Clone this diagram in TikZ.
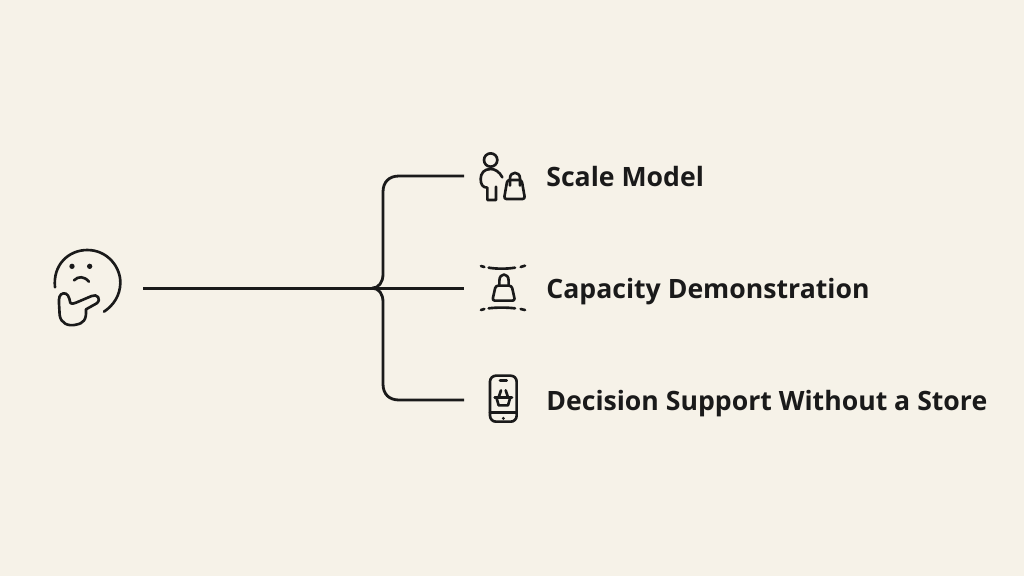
\documentclass[tikz,border=0pt]{standalone}
\usepackage{fontspec}
\setmainfont{Open Sans}
\usetikzlibrary{positioning}
\definecolor{paper}{HTML}{F6F2E8}
\definecolor{ink}{HTML}{1A1A1A}
\tikzstyle{lbl} = [anchor=base west,inner sep=0pt,text=ink,font=\fontsize{15.16}{19}\selectfont\bfseries]
\tikzstyle{wire} = [draw=ink,line width=1.6pt]
\tikzstyle{icon} = [draw=ink,line width=1.5pt,line cap=round,line join=round]

\begin{document}
\begin{tikzpicture}[x=.02cm,y=-.02cm]
  \fill [paper] (0,0) rectangle (1024,576);
  \useasboundingbox (0,0) rectangle (1024,576);

  \coordinate (start) at (143,288.2);
  \coordinate (hub) at (372,288.2);
  \coordinate (end1) at (464,176);
  \coordinate (end2) at (464,288.2);
  \coordinate (end3) at (464,400);

  \node [lbl] (t1) at (546,186) {Scale Model};
  \node [lbl] (t2) at (546,298.5) {Capacity Demonstration};
  \node [lbl] (t3) at (546,410.5) {Decision Support Without a Store};

  \draw [wire] (start) -- (end2);
  \draw [wire,line width=1.9pt] (303,288.2) -- (hub);
  \draw [wire] (hub) .. controls (379,288) and (383,282) .. (383,274)
    -- (383,192) .. controls (383,182) and (389,176) .. (399,176) -- (end1);
  \draw [wire] (hub) .. controls (379,288) and (383,294) .. (383,302)
    -- (383,384) .. controls (383,394) and (389,400) .. (399,400) -- (end3);

  % thinking face
  \begin{scope}[shift={(40,240)},x=.00667cm,y=-.00667cm]
    \draw [icon] (45,142) .. controls (38,75) and (85,30) .. (142,30)
      .. controls (205,30) and (243,85) .. (241,130)
      .. controls (240,165) and (222,195) .. (192,215);
    \fill [ink] (96,79) circle (8);
    \fill [ink] (149,79) circle (8);
    \draw [icon] (102,121) .. controls (115,108) and (132,108) .. (147,125);
    \draw [icon] (91,189) .. controls (88,170) and (82,158) .. (70,160)
      .. controls (58,162) and (56,175) .. (57,190)
      -- (59,225) .. controls (62,250) and (85,260) .. (108,254)
      .. controls (130,250) and (140,240) .. (138,208)
      -- (170,190) .. controls (185,178) and (172,160) .. (155,168)
      -- (108,188) .. controls (100,192) and (94,192) .. (91,189);
  \end{scope}

  % person with bag
  \begin{scope}[shift={(470,145)},x=.00667cm,y=-.00667cm]
    \draw [icon] (62,45) circle (20);
    \draw [icon] (97,97) .. controls (88,80) and (75,72) .. (62,72)
      .. controls (42,72) and (32,85) .. (32,102)
      .. controls (32,118) and (38,128) .. (52,128)
      -- (52,165) -- (78,165) -- (78,125);
    \draw [icon,rounded corners=.05cm] (112,105) -- (155,105) -- (165,162) -- (102,162) -- cycle;
    \draw [icon] (120,122) -- (120,100) .. controls (120,78) and (150,78) .. (150,100) -- (150,122);
  \end{scope}

  % bag between bands
  \begin{scope}[shift={(470,255)},x=.00667cm,y=-.00667cm]
    \draw [icon] (33,33) -- (43,36);
    \draw [icon] (56,38) .. controls (80,42) and (110,42) .. (135,38);
    \draw [icon] (152,36) -- (165,32);
    \draw [icon] (33,165) -- (43,162);
    \draw [icon] (56,160) .. controls (80,157) and (110,157) .. (135,160);
    \draw [icon] (152,162) -- (165,165);
    \draw [icon,rounded corners=.05cm] (77,92) -- (125,92) -- (135,137) -- (67,137) -- cycle;
    \draw [icon] (88,92) -- (88,78) .. controls (88,52) and (116,52) .. (116,78) -- (116,92);
  \end{scope}

  % phone with basket
  \begin{scope}[shift={(470,365)},x=.00667cm,y=-.00667cm]
    \draw [icon,rounded corners=.12cm] (60,32) rectangle (140,170);
    \draw [icon] (90,47) -- (110,47);
    \draw [icon] (60,143) -- (140,143);
    \fill [ink] (100,160) circle (5);
    \draw [icon] (74,97) -- (126,97);
    \draw [icon] (79,97) -- (86,121) -- (114,121) -- (121,97);
    \draw [icon] (86,97) -- (93,76);
    \draw [icon] (114,97) -- (107,76);
  \end{scope}
\end{tikzpicture}
\end{document}
